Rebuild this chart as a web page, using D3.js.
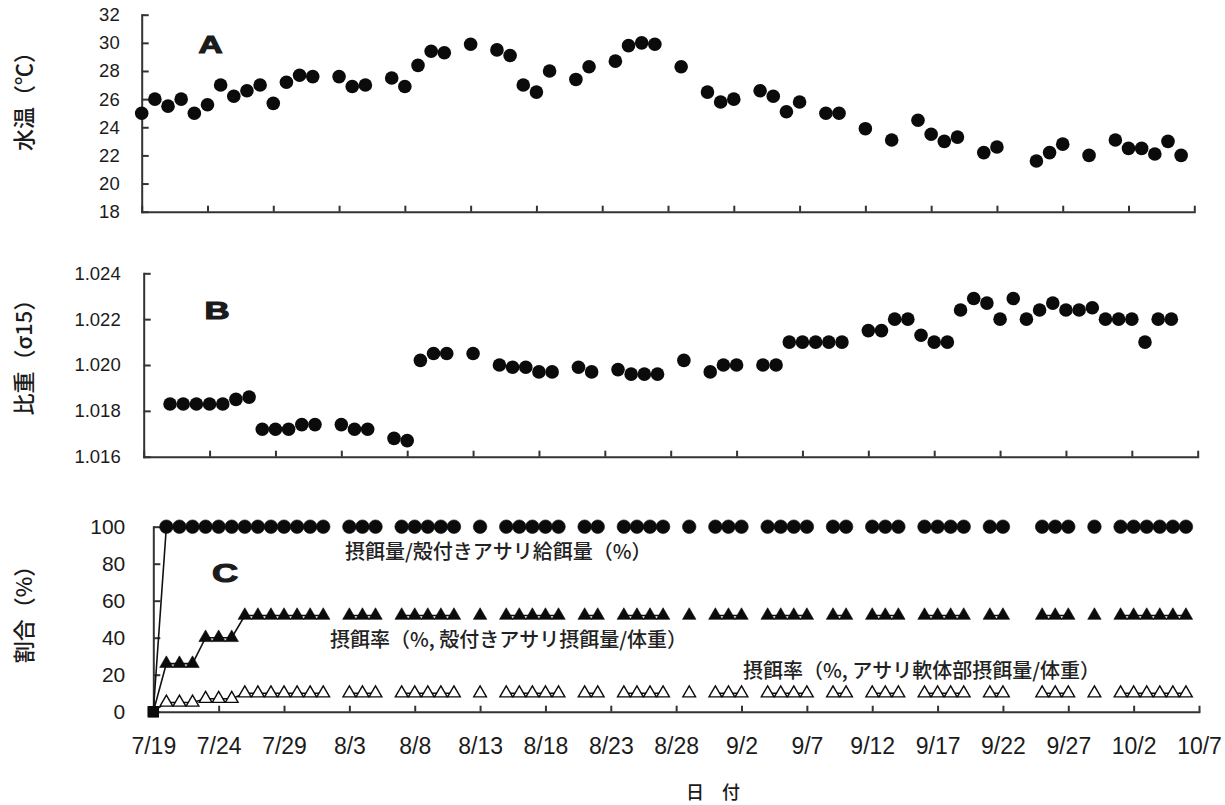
<!DOCTYPE html>
<html>
<head>
<meta charset="utf-8">
<script src="https://cdn.jsdelivr.net/npm/d3@7"></script>
<style>
  body { margin: 0; background: #fff; }
  svg { display: block; }
</style>
</head>
<body>
<svg id="chart" width="1225" height="805"></svg>
<script>
// ---- Data -------------------------------------------------------------
// A: water temperature (°C)
const tempDates = ["7/19","7/20","7/21","7/22","7/23","7/24","7/25","7/26","7/27","7/28","7/29","7/30","7/31","8/1",
  "8/3","8/4","8/5","8/7","8/8","8/9","8/10","8/11","8/13","8/15","8/16","8/17","8/18","8/19","8/21","8/22",
  "8/24","8/25","8/26","8/27","8/29","8/31","9/1","9/2","9/4","9/5","9/6","9/7","9/9","9/10","9/12","9/14",
  "9/16","9/17","9/18","9/19","9/21","9/22","9/25","9/26","9/27","9/29","10/1","10/2","10/3","10/4","10/5","10/6"];
const tempValues = [25.0,26.0,25.5,26.0,25.0,25.6,27.0,26.2,26.6,27.0,25.7,27.2,27.7,27.6,
  27.6,26.9,27.0,27.5,26.9,28.4,29.4,29.3,29.9,29.5,29.1,27.0,26.5,28.0,27.4,28.3,
  28.7,29.8,30.0,29.9,28.3,26.5,25.8,26.0,26.6,26.2,25.1,25.8,25.0,25.0,23.9,23.1,
  24.5,23.5,23.0,23.3,22.2,22.6,21.6,22.2,22.8,22.0,23.1,22.5,22.5,22.1,23.0,22.0];

// B: specific gravity (σ15)
const sgDates = ["7/21","7/22","7/23","7/24","7/25","7/26","7/27","7/28","7/29","7/30","7/31","8/1",
  "8/3","8/4","8/5","8/7","8/8","8/9","8/10","8/11","8/13","8/15","8/16","8/17","8/18","8/19","8/21","8/22",
  "8/24","8/25","8/26","8/27","8/29","8/31","9/1","9/2","9/4","9/5","9/6","9/7","9/8","9/9","9/10",
  "9/12","9/13","9/14","9/15","9/16","9/17","9/18","9/19","9/20","9/21","9/22","9/23","9/24","9/25","9/26",
  "9/27","9/28","9/29","9/30","10/1","10/2","10/3","10/4","10/5"];
const sgValues = [1.0183,1.0183,1.0183,1.0183,1.0183,1.0185,1.0186,1.0172,1.0172,1.0172,1.0174,1.0174,
  1.0174,1.0172,1.0172,1.0168,1.0167,1.0202,1.0205,1.0205,1.0205,1.0200,1.0199,1.0199,1.0197,1.0197,1.0199,1.0197,
  1.0198,1.0196,1.0196,1.0196,1.0202,1.0197,1.0200,1.0200,1.0200,1.0200,1.0210,1.0210,1.0210,1.0210,1.0210,
  1.0215,1.0215,1.0220,1.0220,1.0213,1.0210,1.0210,1.0224,1.0229,1.0227,1.0220,1.0229,1.0220,1.0224,1.0227,
  1.0224,1.0224,1.0225,1.0220,1.0220,1.0220,1.0210,1.0220,1.0220];

// C: feeding ratios (%)
const feedDates = ["7/19","7/20","7/21","7/22","7/23","7/24","7/25","7/26","7/27","7/28","7/29","7/30","7/31","8/1",
  "8/3","8/4","8/5","8/7","8/8","8/9","8/10","8/11","8/13","8/15","8/16","8/17","8/18","8/19","8/21","8/22",
  "8/24","8/25","8/26","8/27","8/29","8/31","9/1","9/2","9/4","9/5","9/6","9/7","9/9","9/10","9/12","9/13","9/14",
  "9/16","9/17","9/18","9/19","9/21","9/22","9/25","9/26","9/27","9/29","10/1","10/2","10/3","10/4","10/5","10/6"];
// 摂餌量/殻付きアサリ給餌量
const intakePerFed = [0,100,100,100,100,100,100,100,100,100,100,100,100,100,
  100,100,100,100,100,100,100,100,100,100,100,100,100,100,100,100,
  100,100,100,100,100,100,100,100,100,100,100,100,100,100,100,100,100,
  100,100,100,100,100,100,100,100,100,100,100,100,100,100,100,100];
// 摂餌率 (殻付きアサリ摂餌量/体重)
const rateShell = [0,26,26,26,40,40,40,52,52,52,52,52,52,52,
  52,52,52,52,52,52,52,52,52,52,52,52,52,52,52,52,
  52,52,52,52,52,52,52,52,52,52,52,52,52,52,52,52,52,
  52,52,52,52,52,52,52,52,52,52,52,52,52,52,52,52];
// 摂餌率 (アサリ軟体部摂餌量/体重)
const rateMeat = [0,5,5,5,7,7,7,10,10,10,10,10,10,10,
  10,10,10,10,10,10,10,10,10,10,10,10,10,10,10,10,
  10,10,10,10,10,10,10,10,10,10,10,10,10,10,10,10,10,
  10,10,10,10,10,10,10,10,10,10,10,10,10,10,10,10];

const xTickLabels = ["7/19","7/24","7/29","8/3","8/8","8/13","8/18","8/23","8/28","9/2","9/7","9/12","9/17","9/22","9/27","10/2","10/7"];
const tempTicks = [18,20,22,24,26,28,30,32];
const sgTicks = [1.016,1.018,1.020,1.022,1.024];
const pctTicks = [0,20,40,60,80,100];

// ---- Helpers ----------------------------------------------------------
const parseDate = s => d3.utcParse("%Y/%m/%d")("2001/" + s);
const xDomain = [parseDate(xTickLabels[0]), parseDate(xTickLabels[xTickLabels.length - 1])];
const xTicks = xTickLabels.map(parseDate);

const svg = d3.select("#chart");
const INK = "#1b1b1b";
const AXIS = "#333";
const CJK = "'Noto Sans CJK JP', 'Noto Sans', sans-serif";

function styleAxis(g) {
  g.select(".domain").attr("stroke", AXIS).attr("stroke-width", 2).attr("stroke-linecap", "square");
  g.selectAll(".tick line").attr("stroke", AXIS).attr("stroke-width", 2);
}

function panel(cfg) {
  const x = d3.scaleUtc().domain(xDomain).range(cfg.xRange);
  const y = d3.scaleLinear().domain(cfg.yDomain).range(cfg.yRange);

  const gx = svg.append("g").attr("transform", `translate(0,${cfg.yRange[0]})`)
    .call(d3.axisBottom(x).tickValues(xTicks).tickSizeInner(-6).tickSizeOuter(0)
      .tickPadding(26)
      .tickFormat(cfg.xLabels ? (d, i) => xTickLabels[i] : () => ""));
  styleAxis(gx);
  gx.selectAll("text").attr("fill", INK)
    .style("font-family", "'Liberation Sans Narrow', 'Arial Narrow', sans-serif")
    .style("font-size", "23px");

  const gy = svg.append("g").attr("transform", `translate(${cfg.xRange[0]},0)`)
    .call(d3.axisLeft(y).tickValues(cfg.yTicks).tickSizeInner(-7).tickSizeOuter(0)
      .tickPadding(cfg.yPad).tickFormat(cfg.yFormat));
  styleAxis(gy);
  gy.selectAll("text").attr("fill", INK)
    .style("font-family", cfg.yFont)
    .style("font-size", cfg.yFontSize + "px");

  // axis title (rotated)
  svg.append("text")
    .attr("transform", `translate(${cfg.titleX},${cfg.titleY}) rotate(-90)`)
    .attr("text-anchor", "middle")
    .attr("fill", INK)
    .style("font-family", CJK).style("font-size", "22px").style("font-weight", "500")
    .text(cfg.title);

  // panel letter
  svg.append("text")
    .attr("transform", `translate(${cfg.letterX},${cfg.letterY}) scale(1.45,1)`)
    .attr("text-anchor", "middle")
    .attr("fill", INK).attr("stroke", INK).attr("stroke-width", 1.1)
    .style("font-family", "'Liberation Sans', Arial, sans-serif")
    .style("font-weight", "bold").style("font-size", cfg.letterSize + "px")
    .text(cfg.letter);

  return { x, y };
}

function dots(sc, dates, values, r) {
  svg.append("g").selectAll("circle")
    .data(dates.map((d, i) => ({ d: parseDate(d), v: values[i] })))
    .join("circle")
    .attr("cx", p => sc.x(p.d)).attr("cy", p => sc.y(p.v)).attr("r", r)
    .attr("fill", "#0b0b0b");
}

// ---- Panel A: water temperature --------------------------------------
const A = panel({
  xRange: [141.7, 1194.3], yDomain: [18, 32], yRange: [211.7, 14.7],
  yTicks: tempTicks, yFormat: d3.format("d"), yPad: 22,
  yFont: "'Liberation Sans', Arial, sans-serif", yFontSize: 18.5,
  title: "水温（℃）", titleX: 32, titleY: 96,
  letter: "A", letterX: 210.5, letterY: 52.5, letterSize: 23
});
dots(A, tempDates, tempValues, 6.8);

// ---- Panel B: specific gravity ---------------------------------------
const B = panel({
  xRange: [143.7, 1197.7], yDomain: [1.016, 1.024], yRange: [456.7, 273.3],
  yTicks: sgTicks, yFormat: d3.format(".3f"), yPad: 23,
  yFont: "'Liberation Sans', Arial, sans-serif", yFontSize: 18.5,
  title: "比重（σ15）", titleX: 32, titleY: 352,
  letter: "B", letterX: 217, letterY: 318.5, letterSize: 24
});
dots(B, sgDates, sgValues, 6.8);

// ---- Panel C: feeding ratios -----------------------------------------
const C = panel({
  xRange: [153.3, 1199], yDomain: [0, 100], yRange: [711.7, 526.7],
  yTicks: pctTicks, yFormat: d3.format("d"), yPad: 28,
  yFont: "'Liberation Sans Narrow', 'Arial Narrow', sans-serif", yFontSize: 21,
  title: "割合（%）", titleX: 32, titleY: 609,
  letter: "C", letterX: 225, letterY: 581.5, letterSize: 25, xLabels: true
});

// break the line wherever a sampling day is skipped
function withGaps(dates, values) {
  const out = [];
  dates.forEach((s, i) => {
    const d = parseDate(s);
    if (i > 0 && d3.utcDay.count(parseDate(dates[i - 1]), d) > 1) out.push(null);
    out.push({ d, v: values[i] });
  });
  return out;
}
const line = d3.line().defined(p => p !== null).x(p => C.x(p.d)).y(p => C.y(p.v));

const feedSeries = [
  { values: intakePerFed, symbol: d3.symbolCircle, size: 145, fill: "#0b0b0b" },
  { values: rateShell, symbol: d3.symbolTriangle, size: 78, fill: "#0b0b0b" },
  { values: rateMeat, symbol: d3.symbolTriangle, size: 70, fill: "#fff" }
];

feedSeries.forEach(s => {
  svg.append("path").datum(withGaps(feedDates, s.values))
    .attr("d", line).attr("fill", "none").attr("stroke", "#111").attr("stroke-width", 1.6);
});
feedSeries.forEach(s => {
  svg.append("g").selectAll("path")
    .data(feedDates.map((d, i) => ({ d: parseDate(d), v: s.values[i], first: i === 0 })))
    .join("path")
    .attr("transform", p => `translate(${C.x(p.d)},${C.y(p.v)})`)
    .attr("d", p => d3.symbol(p.first ? d3.symbolSquare : s.symbol, p.first ? 100 : s.size)())
    .attr("fill", p => p.first ? "#0b0b0b" : s.fill)
    .attr("stroke", "#0b0b0b").attr("stroke-width", s.fill === "#fff" ? 1.4 : 0.6);
});

// series labels
const seriesLabels = [
  { text: "摂餌量/殻付きアサリ給餌量（%）", x: 345, y: 559 },
  { text: "摂餌率（%, 殻付きアサリ摂餌量/体重）", x: 330, y: 646.5 },
  { text: "摂餌率（%, アサリ軟体部摂餌量/体重）", x: 743, y: 677.5 }
];
svg.append("g").selectAll("text").data(seriesLabels).join("text")
  .attr("x", d => d.x).attr("y", d => d.y)
  .attr("fill", "#222")
  .style("font-family", CJK).style("font-size", "20px").style("font-weight", "500")
  .text(d => d.text);

// x-axis title
svg.append("text")
  .attr("x", 713).attr("y", 799)
  .attr("text-anchor", "middle").attr("fill", INK)
  .style("font-family", CJK).style("font-size", "18px").style("font-weight", "500")
  .text("日　付");
</script>
</body>
</html>
